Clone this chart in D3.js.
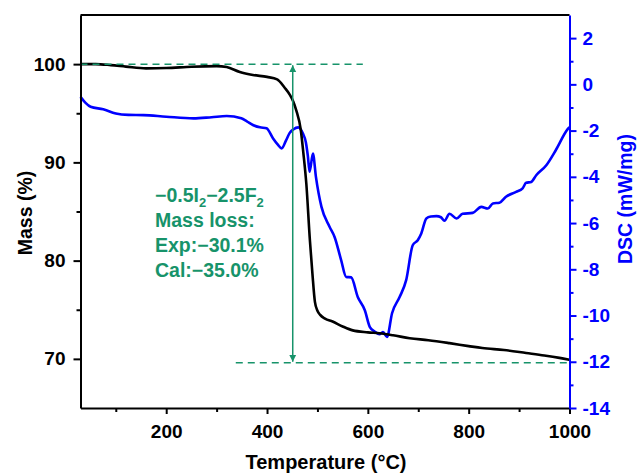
<!DOCTYPE html>
<html>
<head>
<meta charset="utf-8">
<script src="https://cdn.jsdelivr.net/npm/d3@7"></script>
<style>
  body { margin: 0; background: #fff; }
  svg { display: block; font-family: 'Liberation Sans', Arial, sans-serif; font-weight: bold; }
</style>
</head>
<body>
<svg id="chart" width="638" height="473"></svg>
<script>
// TGA (mass %)
const tgaTemp = [30, 60, 90, 120, 160, 200, 250, 300, 320, 346, 372, 400, 420, 435, 445, 452, 458, 467, 472, 478, 485, 490, 495, 500, 505, 515, 530, 550, 570, 600, 623, 650, 683, 720, 762, 800, 827, 870, 914, 950, 980, 1000];
const tgaMass = [100.0, 100.0, 99.9, 99.75, 99.57, 99.6, 99.74, 99.8, 99.7, 99.2, 98.9, 98.7, 98.45, 97.6, 96.9, 96.2, 95.3, 93.3, 91.0, 87.8, 82.1, 78.7, 75.8, 74.9, 74.5, 74.1, 73.8, 73.3, 72.9, 72.7, 72.6, 72.4, 72.1, 71.9, 71.6, 71.3, 71.1, 70.9, 70.6, 70.35, 70.1, 69.9];

// DSC (mW/mg)
const dscTemp = [30, 40, 50, 75, 100, 125, 155, 200, 254, 290, 320, 349, 360, 372, 386, 399, 412, 421, 429, 438, 445, 452, 462, 471, 477, 481, 484.5, 491, 497, 508, 524, 534, 547, 557, 567, 580, 594, 604, 614, 623, 630, 638, 648, 663, 676, 689, 699, 706, 716, 725, 736, 745, 752, 762, 776, 788, 808, 825, 838, 848, 861, 874, 894, 907, 914, 924, 934, 954, 973, 996, 1000];
const dscValue = [-0.54, -0.8, -0.97, -1.08, -1.26, -1.32, -1.33, -1.4, -1.47, -1.42, -1.37, -1.47, -1.6, -1.76, -1.86, -1.9, -2.34, -2.6, -2.77, -2.41, -2.1, -1.95, -1.86, -2.12, -2.5, -3.1, -3.78, -2.99, -4.0, -5.3, -6.16, -6.6, -7.6, -8.33, -8.35, -9.2, -9.77, -10.5, -10.7, -10.81, -10.71, -10.93, -9.9, -9.2, -8.47, -6.96, -6.74, -6.45, -5.8, -5.72, -5.7, -5.75, -5.9, -5.6, -5.8, -5.6, -5.56, -5.3, -5.37, -5.15, -5.12, -4.86, -4.65, -4.5, -4.26, -4.22, -3.93, -3.5, -2.84, -1.95, -1.85];

const xTicks = [200, 400, 600, 800, 1000];
const xMinorTicks = [100, 300, 500, 700, 900];
const massTicks = [70, 80, 90, 100];
const massMinorTicks = [75, 85, 95];
const dscTicks = [-14, -12, -10, -8, -6, -4, -2, 0, 2];
const dscMinorTicks = [-13, -11, -9, -7, -5, -3, -1, 1];

// annotation: mass levels of the two dashed guides, and their temperature spans
const lossLevels = [100, 69.6];
const lossSpans = [[30, 590], [338, 1000]];
const arrowTemp = 451;
const noteLines = ['−0.5I|2|−2.5F|2', 'Mass loss:', 'Exp:−30.1%', 'Cal:−35.0%'];

const green = '#17936a';
const blue = '#0000ff';

const svg = d3.select('#chart');
const plot = { left: 80.5, right: 569.5, top: 15, bottom: 408 };

const x = d3.scaleLinear().domain([30, 1000]).range([plot.left, plot.right]);
const yMass = d3.scaleLinear().domain([65, 105]).range([plot.bottom, plot.top]);
const yDsc = d3.scaleLinear().domain([-14, 3]).range([plot.bottom, plot.top]);

svg.append('rect').attr('width', 638).attr('height', 473).attr('fill', '#fff');

// curves
const massLine = d3.line()
  .x(d => x(d[0]))
  .y(d => yMass(d[1]))
  .curve(d3.curveMonotoneX);
const dscLine = d3.line()
  .x(d => x(d[0]))
  .y(d => yDsc(d[1]))
  .curve(d3.curveMonotoneX);

svg.append('path')
  .datum(dscTemp.map((t, i) => [t, dscValue[i]]))
  .attr('d', dscLine)
  .attr('fill', 'none')
  .attr('stroke', blue)
  .attr('stroke-width', 2.6)
  .attr('stroke-linejoin', 'round');

svg.append('path')
  .datum(tgaTemp.map((t, i) => [t, tgaMass[i]]))
  .attr('d', massLine)
  .attr('fill', 'none')
  .attr('stroke', '#000')
  .attr('stroke-width', 2.6)
  .attr('stroke-linejoin', 'round');

// dashed guides + double arrow
lossLevels.forEach((level, i) => {
  svg.append('line')
    .attr('x1', x(lossSpans[i][0]))
    .attr('x2', x(lossSpans[i][1]))
    .attr('y1', yMass(level))
    .attr('y2', yMass(level))
    .attr('stroke', green)
    .attr('stroke-width', 1.5)
    .attr('stroke-dasharray', '7,5');
});

const defs = svg.append('defs');
defs.append('marker')
  .attr('id', 'head')
  .attr('viewBox', '0 0 10 10')
  .attr('refX', 10)
  .attr('refY', 5)
  .attr('markerWidth', 7)
  .attr('markerHeight', 12)
  .attr('markerUnits', 'userSpaceOnUse')
  .attr('orient', 'auto-start-reverse')
  .append('path')
  .attr('d', 'M0,0L10,5L0,10Z')
  .attr('fill', green);

svg.append('line')
  .attr('x1', x(arrowTemp))
  .attr('x2', x(arrowTemp))
  .attr('y1', yMass(lossLevels[1]) - 1)
  .attr('y2', yMass(lossLevels[0]) + 1)
  .attr('stroke', green)
  .attr('stroke-width', 1.5)
  .attr('marker-start', 'url(#head)')
  .attr('marker-end', 'url(#head)');

// annotation text
const note = svg.append('g').attr('fill', green).attr('font-size', 19.5);
noteLines.forEach((line, i) => {
  const text = note.append('text').attr('x', 155).attr('y', 201.5 + i * 25);
  line.split('|').forEach((part, j) => {
    const span = text.append('tspan').text(part);
    if (j % 2 === 1) {
      span.attr('font-size', 13).attr('dy', 5);
    } else if (j > 0) {
      span.attr('dy', -5);
    }
  });
});

// frame
svg.append('line')
  .attr('x1', plot.left).attr('x2', plot.right)
  .attr('y1', plot.top).attr('y2', plot.top)
  .attr('stroke', '#000').attr('stroke-width', 2);

function styleAxis(g, color) {
  g.select('.domain').attr('stroke', color).attr('stroke-width', 2);
  g.selectAll('.tick line').attr('stroke', color).attr('stroke-width', 2);
  g.selectAll('.tick text').attr('fill', color);
  g.attr('font-family', null).attr('font-size', 19);
}

function minorAxis(axis, ticks, transform, color) {
  const g = svg.append('g')
    .attr('transform', transform)
    .call(axis.tickValues(ticks).tickSize(4).tickFormat(''));
  g.select('.domain').remove();
  g.selectAll('.tick line').attr('stroke', color).attr('stroke-width', 2);
}

minorAxis(d3.axisBottom(x), xMinorTicks, `translate(0,${plot.bottom})`, '#000');
minorAxis(d3.axisLeft(yMass), massMinorTicks, `translate(${plot.left},0)`, '#000');
minorAxis(d3.axisRight(yDsc), dscMinorTicks, `translate(${plot.right},0)`, blue);

svg.append('g')
  .attr('transform', `translate(0,${plot.bottom})`)
  .call(d3.axisBottom(x).tickValues(xTicks).tickSize(6).tickPadding(11).tickSizeOuter(0)
    .tickFormat(d3.format('d')))
  .call(g => styleAxis(g, '#000'));

svg.append('g')
  .attr('transform', `translate(${plot.left},0)`)
  .call(d3.axisLeft(yMass).tickValues(massTicks).tickSize(7).tickPadding(8).tickSizeOuter(0)
    .tickFormat(d3.format('d')))
  .call(g => styleAxis(g, '#000'));

svg.append('g')
  .attr('transform', `translate(${plot.right},0)`)
  .call(d3.axisRight(yDsc).tickValues(dscTicks).tickSize(7).tickPadding(6).tickSizeOuter(0)
    .tickFormat(d => String(d)))
  .call(g => styleAxis(g, blue));

// axis titles
svg.append('text')
  .attr('transform', 'translate(32,213) rotate(-90)')
  .attr('text-anchor', 'middle')
  .attr('font-size', 19.5)
  .text('Mass (%)');

svg.append('text')
  .attr('transform', 'translate(632,199) rotate(-90)')
  .attr('text-anchor', 'middle')
  .attr('font-size', 19.5)
  .attr('fill', blue)
  .text('DSC (mW/mg)');

svg.append('text')
  .attr('x', 326)
  .attr('y', 469)
  .attr('text-anchor', 'middle')
  .attr('font-size', 20)
  .text('Temperature (°C)');
</script>
</body>
</html>
